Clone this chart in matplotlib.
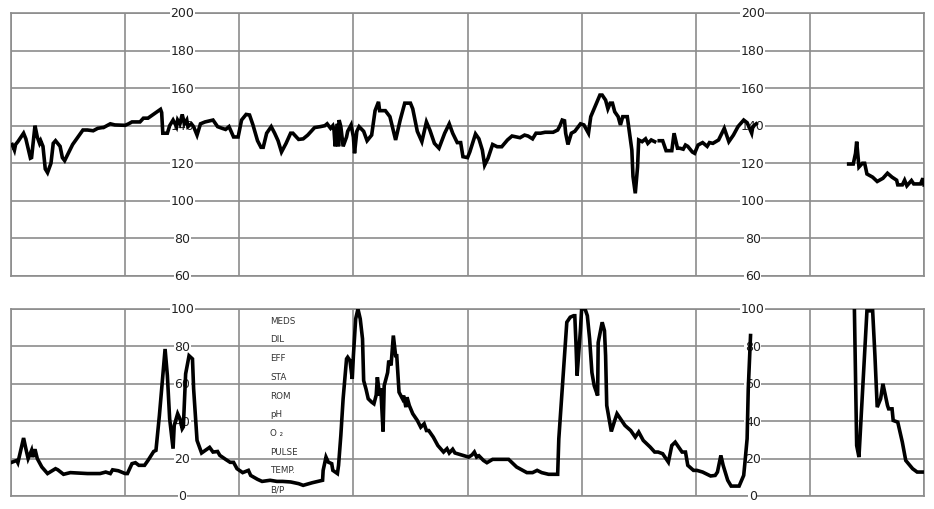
import numpy as np
import matplotlib
matplotlib.use("Agg")
import matplotlib.pyplot as plt

# fetal heart rate trace (minutes, bpm); nan = gap in the recording
fhr_t = [0.1, 0.3, 0.4, 0.6, 1.1, 1.3, 1.7, 1.8, 2.1, 2.3, 2.5, 2.6, 2.8, 3.0, 3.2, 3.5, 3.7, 3.9,
         4.3, 4.5, 4.7, 5.4, 6.3, 6.7, 7.2, 7.6, 8.0, 8.1, 8.7, 9.1, 10.0, 10.3, 10.6, 11.3, 11.6,
         12.0, 12.4, 13.1, 13.2, 13.3, 13.7, 13.9, 14.2, 14.5, 14.6, 14.8, 15.0, 15.2, 15.4, 15.5,
         15.8, 16.0, 16.3, 16.6, 17.0, 17.7, 18.1, 18.5, 18.8, 19.1, 19.5, 19.9, 20.2, 20.6, 20.9,
         21.2, 21.6, 21.9, 22.1, 22.4, 22.8, 23.1, 23.4, 23.7, 24.1, 24.5, 24.7, 25.2, 25.6, 26.0,
         26.6, 27.1, 27.5, 27.7, 28.0, 28.2, 28.3, 28.4, 28.6, 28.7, 28.75, 28.9, 29.1, 29.4, 29.5,
         29.8, 30.0, 30.1, 30.3, 30.5, 30.9, 31.2, 31.6, 31.9, 32.2, 32.3, 32.8, 33.2, 33.7, 34.1,
         34.5, 35.0, 35.2, 35.6, 36.0, 36.4, 36.7, 37.1, 37.5, 38.0, 38.4, 38.7, 39.1, 39.4, 39.6,
         40.0, 40.2, 40.7, 41.0, 41.3, 41.5, 41.8, 42.2, 42.6, 43.0, 43.5, 43.9, 44.6, 45.0, 45.3,
         45.7, 46.0, 46.4, 46.8, 47.5, 47.9, 48.1, 48.3, 48.5, 48.6, 48.8, 49.1, 49.4, 49.9, 50.2,
         50.6, 50.8, 51.3, 51.6, 51.8, 52.1, 52.3, 52.5, 52.7, 52.9, 53.2, 53.4, 53.6, 54.0, 54.2,
         54.4, 54.5, 54.7, 54.9, 55.0, 55.3, 55.6, 55.8, 56.1, 56.4, 56.6, 56.8, 57.1, 57.4, 57.9,
         58.1, 58.4, 58.6, 58.9, 59.1, 59.3, 59.7, 59.9, 60.2, 60.6, 61.0, 61.2, 61.5, 62.0, 62.5,
         62.9, 63.3, 63.7, 64.2, 64.5, 64.9, 65.0, 65.3,
         69.0,
         73.4, 73.8, 74.0, 74.1, 74.3, 74.6, 74.8, 75.0, 75.5, 75.9, 76.4, 76.8, 77.2, 77.6, 77.7,
         78.1, 78.3, 78.5, 78.9, 79.1, 79.4, 79.7, 79.9, 80.0]
fhr_bpm = [130, 127, 130, 131.5, 136, 133, 122.7, 123, 140, 134, 130.6, 132, 129, 117, 115, 120,
           130.6, 132, 129, 123, 121.4, 130, 137.7, 137.7, 137.3, 138.6, 139, 139, 141, 140.4, 140.2,
           141, 142, 142, 144, 144, 145.7, 148.7, 147, 136, 136, 140, 143, 139.5, 143, 141, 146, 141,
           143, 139.5, 141, 139.5, 135, 141, 142, 143, 139.5, 138.6, 138, 139.5, 134, 134, 143, 146,
           145.7, 140.4, 132, 128.5, 128.5, 136, 139.5, 136, 132, 126, 130.6, 136, 136, 132.7, 133,
           135, 139, 139.5, 140, 141, 138.6, 140, 137.7, 129, 141, 129, 143, 139.5, 129, 134, 137,
           140.4, 134, 125.3, 137, 139.5, 137, 132, 135, 148, 152.7, 148, 148, 144.8, 132.4, 143, 152,
           152, 149, 137, 131.5, 142, 137.7, 130.6, 128, 136, 141, 136, 131, 131, 123.5, 123, 126,
           135.6, 133, 127, 119, 122.7, 130, 128.8, 128.8, 132.4, 134.5, 133.6, 135, 134.5, 133, 136,
           136, 136.5, 136.5, 137.7, 140, 143, 142.6, 136, 130, 136, 137, 141, 140.4, 136, 144.8, 151.9,
           156.3, 156.3, 153.6, 149, 152, 152, 147.4, 144.8, 140.4, 144.8, 144.8, 136, 127, 113, 104,
           118, 132.4, 131.5, 133, 130.6, 132.4, 131.5, np.nan, 132, 132, 126.7, 126.7, 136, 128, 128,
           127.5, 129.7, 129, 126, 125.3, 129.7, 131, 129, 131, 130.6, 132.4, 138.6, 131.5, 135, 139.5,
           143, 141.6, 136, 139.5, 141,
           np.nan,
           119.6, 119.6, 125.3, 131.5, 118, 120, 120, 114.3, 112.6, 110.3, 112, 114.7, 112.6, 111,
           108.5, 108.5, 111, 108, 110.8, 109, 109, 109, 112, 108.5]

# uterine activity trace (minutes, mmHg)
uc_t = [0.1, 0.5, 0.6, 1.1, 1.3, 1.5, 1.8, 1.9, 2.1, 2.3, 2.7, 3.2, 3.9, 4.1, 4.6, 5.2, 6.7, 7.8,
        8.3, 8.7, 8.9, 9.4, 10.0, 10.2, 10.6, 10.9, 11.2, 11.7, 12.0, 12.5, 12.7, 13.0, 13.2, 13.5,
        13.7, 13.9, 14.2, 14.3, 14.5, 14.6, 14.8, 15.0, 15.1, 15.3, 15.6, 15.9, 16.0, 16.3, 16.7,
        17.4, 17.7, 18.1, 18.3, 18.8, 19.2, 19.5, 19.8, 20.3, 20.8, 21.0, 21.6, 22.0, 22.7, 23.3,
        23.8, 24.5, 25.2, 25.6, 26.4, 27.3, 27.35, 27.6, 27.8, 28.1, 28.2, 28.6, 28.7, 28.9, 29.1,
        29.4, 29.5, 29.7, 29.9, 30.0, 30.2, 30.4, 30.6, 30.8, 30.9, 31.1, 31.3, 31.6, 31.8, 32.0,
        32.1, 32.3, 32.4, 32.6, 32.7, 33.0, 33.1, 33.3, 33.5, 33.7, 33.8, 34.0, 34.3, 34.4, 34.6,
        34.7, 34.9, 35.2, 35.6, 35.9, 36.2, 36.4, 36.6, 37.0, 37.4, 37.9, 38.2, 38.4, 38.7, 38.9,
        39.6, 40.1, 40.4, 40.6, 40.8, 41.0, 41.4, 41.7, 42.2, 42.9, 43.6, 44.3, 45.2, 45.7, 46.1,
        46.5, 47.1, 47.9, 48.0, 48.4, 48.7, 49.0, 49.3, 49.4, 49.5, 49.6, 49.9, 50.0, 50.3, 50.5,
        50.7, 50.9, 51.1, 51.4, 51.45, 51.8, 52.0, 52.1, 52.2, 52.4, 52.6, 52.9, 53.1, 53.4, 53.8,
        54.3, 54.7, 55.0, 55.4, 56.0, 56.4, 56.7, 57.1, 57.6, 57.9, 58.2, 58.5, 58.8, 59.1, 59.3,
        59.8, 60.1, 60.6, 61.3, 61.7, 61.9, 62.2, 62.4, 62.8, 63.1, 63.8, 64.2, 64.3, 64.5, 64.6,
        64.8,
        69.0,
        73.9, 74.1, 74.3, 74.7, 75.0, 75.5, 75.7, 75.9, 76.2, 76.4, 76.8, 76.9, 77.2, 77.3, 77.7,
        78.1, 78.4, 79.0, 79.4, 80.0]
uc_val = [18.1, 19, 17.8, 31, 25.3, 20, 24.4, 20.8, 25, 20, 15.5, 12, 14.6, 14, 11.6, 12.5, 12, 12,
          12.8, 12, 14, 13.5, 12, 12, 17.3, 17.8, 16.4, 16.4, 19, 23.8, 24.4, 43, 57.3, 78.6, 64.4,
          41.3, 25.3, 37.7, 42, 44, 41.3, 36, 37, 65.3, 75, 73.3, 57.3, 29.7, 23, 26, 23.5, 23.8,
          21.7, 19.6, 18, 18, 14.6, 12.5, 13.7, 11, 8.9, 7.8, 8.4, 7.8, 7.8, 7.5, 6.6, 5.7, 7.1, 8.4,
          13.7, 20.8, 18.1, 17.3, 13.7, 12, 16.4, 32.4, 52, 73.3, 74.2, 72.4, 62.6, 75, 94.7, 100,
          94.7, 84, 61.7, 57.3, 52, 50.2, 49.3, 54, 63.5, 53.7, 57.6, 34.5, 59, 66, 72.4, 69.8, 85.8,
          75, 75, 55.5, 52, 53.7, 47.5, 52.8, 48.4, 44, 40.4, 36.8, 38.6, 35, 35, 31.5, 27, 23.5,
          25.3, 23, 25, 23, 21.7, 20.8, 22, 23.5, 20.8, 21.5, 19, 17.8, 19.6, 19.6, 19.6, 15.5, 12.5,
          12.5, 13.7, 12.5, 11.6, 11.6, 30.6, 66, 92.9, 95.6, 96.4, 96.4, 82, 64.4, 89.3, 100, 100,
          96.4, 84, 66, 59, 53.7, 82, 92.9, 88.4, 75, 48.4, 41.3, 34.5, 40.4, 44, 41.3, 37.7, 35,
          31.5, 34.2, 29.7, 26.2, 23.5, 23.5, 22.6, 18.1, 27, 28.8, 26.2, 23.5, 23.5, 16.4, 13.7,
          13.7, 12.8, 10.7, 11, 12.8, 21.7, 16.4, 8.4, 5.3, 5.3, 11, 17.3, 30.6, 57.3, 85.8,
          np.nan,
          100, 27, 20.8, 66, 99, 99, 75, 47.5, 52, 60, 48.4, 46.6, 46.6, 40.4, 39.5, 28.8, 19, 14.6,
          12.8, 12.8]

fhr_ticks = [200, 180, 160, 140, 120, 100, 80, 60]
uc_ticks = [100, 80, 60, 40, 20, 0]
label_cols = [15, 65]
side_labels = ["MEDS", "DIL", "EFF", "STA", "ROM", "pH", "O \u2082", "PULSE", "TEMP.", "B/P"]

grid_c = "#8c8c8c"

fig = plt.figure(figsize=(9.34, 5.10), dpi=100)
ax1 = fig.add_axes([0.0118, 0.4569, 0.9775, 0.5157])
ax2 = fig.add_axes([0.0118, 0.0255, 0.9775, 0.3667])

for ax, lo, hi, step in [(ax1, 60, 200, 20), (ax2, 0, 100, 20)]:
    ax.set_xlim(0, 80)
    ax.set_ylim(lo, hi)
    ax.set_xticks(np.arange(0, 81, 10))
    ax.set_yticks(np.arange(lo, hi + 1, step))
    ax.tick_params(length=0, labelbottom=False, labelleft=False)
    ax.grid(True, color=grid_c, linewidth=1.2)
    ax.set_axisbelow(True)
    for s in ax.spines.values():
        s.set_color(grid_c)
        s.set_linewidth(1.2)

for ax, ticks in [(ax1, fhr_ticks), (ax2, uc_ticks)]:
    for xc in label_cols:
        for v in ticks:
            ax.text(xc, v, str(v), ha="center", va="center", fontsize=9, color="#222222",
                    zorder=3, clip_on=False,
                    bbox=dict(boxstyle="square,pad=0.05", fc="white", ec="none"))

for i, lab in enumerate(side_labels):
    ax2.text(22.7, 94 - 10 * i, lab, ha="left", va="center", fontsize=6.3, color="#333333",
             zorder=3)

ax1.plot(fhr_t, fhr_bpm, color="black", linewidth=2.6, zorder=4, solid_joinstyle="miter")
ax2.plot(uc_t, uc_val, color="black", linewidth=2.6, zorder=4, solid_joinstyle="miter")

fig.savefig("out.png", dpi=100)
